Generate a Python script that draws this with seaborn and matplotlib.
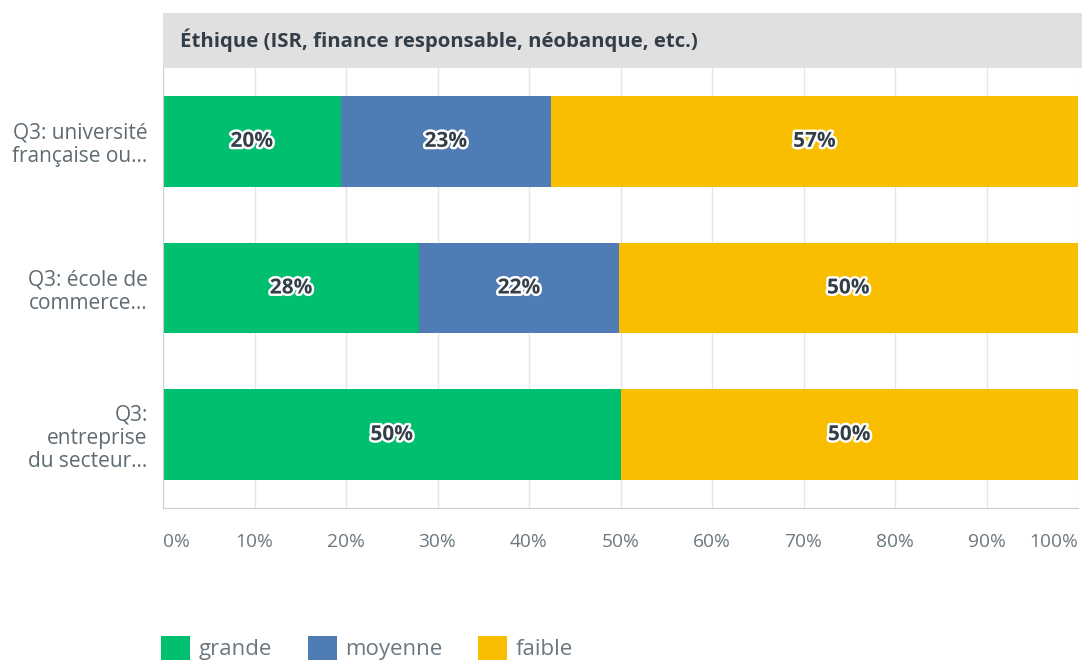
import pandas as pd
import matplotlib.pyplot as plt
import seaborn as sns
import matplotlib.patheffects as pe
from matplotlib.patches import Rectangle, Patch

categories = ["Q3: université\nfrançaise ou...", "Q3: école de\ncommerce...", "Q3:\nentreprise\ndu secteur..."]
grande = [19.4, 28.0, 50.0]
moyenne = [23.0, 21.8, 0.0]
faible = [57.6, 50.2, 50.0]
grande_lbl = ["20%", "28%", "50%"]
moyenne_lbl = ["23%", "22%", ""]
faible_lbl = ["57%", "50%", "50%"]
series = ["grande", "moyenne", "faible"]
colors = {"grande": "#00bf6f", "moyenne": "#507cb6", "faible": "#f9be00"}
ticks = [0, 10, 20, 30, 40, 50, 60, 70, 80, 90, 100]

df = pd.DataFrame({"cat": categories, "grande": grande, "moyenne": moyenne, "faible": faible})
df["c2"] = df["grande"] + df["moyenne"]
df["c3"] = df["c2"] + df["faible"]

sns.set_style("white")
plt.rcParams["font.family"] = ["Open Sans", "DejaVu Sans"]
txt = "#6b787f"
dark = "#333e48"

fig = plt.figure(figsize=(10.82, 6.63), dpi=100)
ax = fig.add_axes([163 / 1082, 1 - 508 / 663, 915 / 1082, 440 / 663])

# stacked by overdrawing cumulative totals
for col, name in [("c3", "faible"), ("c2", "moyenne"), ("grande", "grande")]:
    sns.barplot(data=df, y="cat", x=col, orient="h", color=colors[name],
                width=0.62, saturation=1, ax=ax, linewidth=0, zorder=2)

ax.set_xlim(0, 100)
ax.set_ylim(2.5, -0.5)
ax.set_xlabel("")
ax.set_ylabel("")
ax.set_xticks(ticks)
ax.set_xticklabels([f"{t}%" for t in ticks], fontsize=13.8, color=txt)
labs = ax.get_xticklabels()
labs[0].set_ha("left")
labs[-1].set_ha("right")
ax.tick_params(axis="x", length=0, pad=18)
ax.tick_params(axis="y", length=0, pad=11)
for lab in ax.get_yticklabels():
    lab.set_fontsize(15)
    lab.set_color("#5f6b73")
    lab.set_linespacing(1.15)
ax.grid(axis="x", color="#e6e6e6", linewidth=1, zorder=0)
ax.set_axisbelow(True)
for s in ["top", "right"]:
    ax.spines[s].set_visible(False)
ax.spines["left"].set_color("#cccccc")
ax.spines["bottom"].set_color("#cccccc")

# segment labels
stroke = [pe.withStroke(linewidth=3.5, foreground="white")]
for i in range(len(categories)):
    starts = [0, grande[i], grande[i] + moyenne[i]]
    for v, st, lb in zip([grande[i], moyenne[i], faible[i]], starts,
                         [grande_lbl[i], moyenne_lbl[i], faible_lbl[i]]):
        if v > 0:
            ax.text(st + v / 2, i, lb, ha="center", va="center", fontsize=15,
                    fontweight="bold", color=dark, path_effects=stroke, zorder=5)

# title band
ax.add_patch(Rectangle((0, 1.0), 1.005, 55 / 440, transform=ax.transAxes,
                       facecolor="#e0e0e0", edgecolor="none", clip_on=False))
ax.text(17 / 915, 1 + 28 / 440, "Éthique (ISR, finance responsable, néobanque, etc.)",
        transform=ax.transAxes, ha="left", va="center", fontsize=14.7,
        fontweight="bold", color=dark)

handles = [Patch(facecolor=colors[s], edgecolor="none", label=s) for s in series]
leg = fig.legend(handles=handles, loc="lower left", bbox_to_anchor=(141 / 1082, -0.026),
                 ncol=3, frameon=False, fontsize=16, handlelength=1.3, handleheight=1.3,
                 columnspacing=1.6, handletextpad=0.4)
for t in leg.get_texts():
    t.set_color(txt)

fig.savefig("out.png", dpi=100)
